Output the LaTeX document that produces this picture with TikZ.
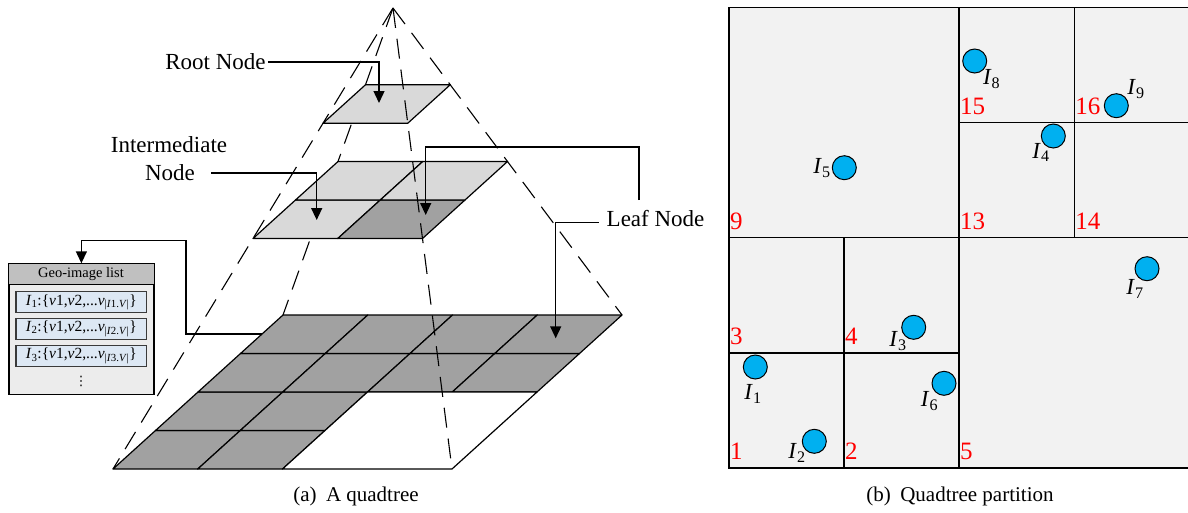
\documentclass[tikz,border=0pt]{standalone}
\usepackage{fontspec}
\setmainfont{Liberation Serif}
\newfontfamily\symfont{DejaVu Sans}
\usetikzlibrary{arrows.meta,calc}

\definecolor{planelight}{HTML}{D9D9D9}
\definecolor{planedark}{HTML}{A1A1A1}
\definecolor{listhead}{HTML}{C0C0C0}
\definecolor{listbody}{HTML}{ECECEC}
\definecolor{itemblue}{HTML}{DDE8F4}
\definecolor{itemedge}{HTML}{3A3A3A}
\definecolor{partfill}{HTML}{F2F2F2}
\definecolor{dotblue}{HTML}{00B0F0}

% one cell of the layered grid (all layers share the same cell size)
\newcommand\quadcell[3]{%
  \filldraw[fill=#3, draw=black, line width=1.2pt, line join=round]
    (#1,#2) -- ++(84.75,0) -- ++(42.5,-38.5) -- ++(-84.75,0) -- cycle;}

\begin{document}
\begin{tikzpicture}[x=1pt,y=-1pt,
  pyr/.style={line width=1.1pt, dash pattern=on 20pt off 11pt},
  arr/.style={line width=1.4pt, -{Triangle[length=12pt,width=11pt]}},
  lbl/.style={font=\fontsize{23}{28}\selectfont, inner sep=2pt},
  captext/.style={font=\fontsize{21}{25}\selectfont, inner sep=0pt},
  num/.style={text=red, font=\fontsize{25}{30}\selectfont, anchor=base west, inner sep=0pt},
  img/.style={font=\fontsize{23}{28}\selectfont, inner sep=0pt},
  pt/.style={circle, draw=black, line width=1pt, fill=dotblue, minimum size=24pt, inner sep=0pt},
  part/.style={draw=black, line width=1.2pt},
  item/.style={draw=itemedge, line width=1.5pt, fill=itemblue, minimum width=130.7pt,
    minimum height=21pt, inner sep=0pt, font=\fontsize{15.5}{18}\selectfont}]
\useasboundingbox (0,0) rectangle (1188,512);

% ---------------- (a) pyramid of quadtree layers ----------------
\coordinate (apex) at (393,8);
\coordinate (bBL) at (113,469);
\coordinate (bBR) at (452,469);
\coordinate (bTR) at (622,315);
\coordinate (bTL) at (283,315);

% hidden back edge (covered by the layers)
\draw[pyr] (apex) -- (bTL);

% leaf layer: 4x4 grid, lower-right 2x2 block empty
\foreach \r in {0,...,3}{
  \foreach \c in {0,...,3}{
    \pgfmathtruncatemacro\keep{(\r>1 || \c<2) ? 1 : 0}
    \ifnum\keep=1
      \pgfmathsetmacro\cx{113+84.75*\c+42.5*\r}
      \pgfmathsetmacro\cy{469-38.5*\r}
      \quadcell{\cx}{\cy}{planedark}
    \fi
  }}
\filldraw[fill=white, draw=black, line width=1.2pt, line join=round]
  (282.5,469) -- (452,469) -- (537,392) -- (367.5,392) -- cycle;

% intermediate layer: 2x2
\quadcell{253}{238.5}{planelight}
\quadcell{337.75}{238.5}{planedark}
\quadcell{295.5}{200}{planelight}
\quadcell{380.25}{200}{planelight}

% root layer
\quadcell{323}{123.25}{planelight}

% remaining pyramid edges
\draw[pyr] (apex) -- (bBL);
\draw[pyr] (apex) -- (bTR);
\draw[pyr] (apex) -- (bBR);

% targets inside the layers
\coordinate (rootpt) at (379,103);
\coordinate (intpt) at (316.7,220);
\coordinate (darkpt) at (425.7,215);
\coordinate (leafpt) at (555.7,338.3);
\coordinate (baseL) at ($(bTL)!0.1234!(bBL)$);

% labels and pointers
\node[lbl] (rootlbl) at (215.5,62) {Root Node};
\draw[arr] (rootlbl.east) -| (rootpt);

\node[lbl] (intlbl) at (169,145) {Intermediate};
\node[lbl] (intnode) at (170,173) {Node};
\draw[arr] ([xshift=14pt]intnode.east) -| (intpt);

\node[lbl, anchor=west] (leaflbl) at (604.5,219) {Leaf Node};
\draw[arr] ([shift={(-6,3.5)}]leaflbl.west) -| (leafpt);
\coordinate (leafB) at (639,200);
\draw[arr] (leafB) |- (darkpt |- 0,147) -- (darkpt);

% geo-image list attached to a leaf cell
\node[draw=black, line width=1.2pt, fill=listbody, minimum width=145pt, minimum height=130.7pt,
  inner sep=0pt, anchor=north west] (list) at (8.3,263.3) {};
\filldraw[fill=listhead, draw=black, line width=1.2pt] (list.north west) rectangle ([yshift=-21pt]list.north east);
\node[font=\fontsize{14.5}{17}\selectfont, inner sep=0pt] (listhd) at (81,274.5) {Geo-image list};
\node[item] (it1) at (81.3,302.2) {\textit{I}\textsubscript{1}:\{\textit{v}1,\textit{v}2,...\textit{v}\textsubscript{|\textit{I}1.\textit{V}|}\}};
\node[item] (it2) at (81.3,328.8) {\textit{I}\textsubscript{2}:\{\textit{v}1,\textit{v}2,...\textit{v}\textsubscript{|\textit{I}2.\textit{V}|}\}};
\node[item] (it3) at (81.3,356) {\textit{I}\textsubscript{3}:\{\textit{v}1,\textit{v}2,...\textit{v}\textsubscript{|\textit{I}3.\textit{V}|}\}};
\node[inner sep=0pt, font=\symfont\fontsize{13}{15}\selectfont] (more) at (81,381) {⋮};
\draw[arr] (baseL) -- ++(-76,0) |- ([yshift=23pt]list.north) -- (list.north);

\node[captext] (capa) at (356,496) {(a)\hspace{0.45em}A quadtree};

% ---------------- (b) quadtree partition ----------------
\filldraw[part, fill=partfill] (729,7.5) rectangle (1189.5,468);
\draw[part] (959,7.5) -- (959,468);
\draw[part] (729,237.75) -- (1189.5,237.75);
\draw[part] (1074.25,7.5) -- (1074.25,237.75);
\draw[part] (959,122.6) -- (1189.5,122.6);
\draw[part] (844,237.75) -- (844,468);
\draw[part] (729,352.9) -- (959,352.9);

\node[num] (n9)  at (730,229.25) {9};
\node[num] (n13) at (960,229.25) {13};
\node[num] (n14) at (1075.25,229.25) {14};
\node[num] (n15) at (960,114.1) {15};
\node[num] (n16) at (1075.25,114.1) {16};
\node[num] (n3)  at (730,344.4) {3};
\node[num] (n4)  at (845,344.4) {4};
\node[num] (n1)  at (730,459.5) {1};
\node[num] (n2)  at (845,459.5) {2};
\node[num] (n5)  at (960,459.5) {5};

\node[pt] (p1) at (755.3,367) {};
\node[img] (i1) at (753,394) {\textit{I}\textsubscript{1}};
\node[pt] (p2) at (814.3,441.3) {};
\node[img] (i2) at (797,453) {\textit{I}\textsubscript{2}};
\node[pt] (p3) at (913.7,327.3) {};
\node[img] (i3) at (898,341) {\textit{I}\textsubscript{3}};
\node[pt] (p4) at (1053.3,136) {};
\node[img] (i4) at (1041,152.5) {\textit{I}\textsubscript{4}};
\node[pt] (p5) at (844.3,167.7) {};
\node[img] (i5) at (822,168.3) {\textit{I}\textsubscript{5}};
\node[pt] (p6) at (944,383.3) {};
\node[img] (i6) at (929.5,401) {\textit{I}\textsubscript{6}};
\node[pt] (p7) at (1147,268.7) {};
\node[img] (i7) at (1135,289) {\textit{I}\textsubscript{7}};
\node[pt] (p8) at (974.7,61) {};
\node[img] (i8) at (991.7,79) {\textit{I}\textsubscript{8}};
\node[pt] (p9) at (1116.3,105.7) {};
\node[img] (i9) at (1136,89) {\textit{I}\textsubscript{9}};

\node[captext] (capb) at (960,496) {(b)\hspace{0.45em}Quadtree partition};
\end{tikzpicture}
\end{document}
